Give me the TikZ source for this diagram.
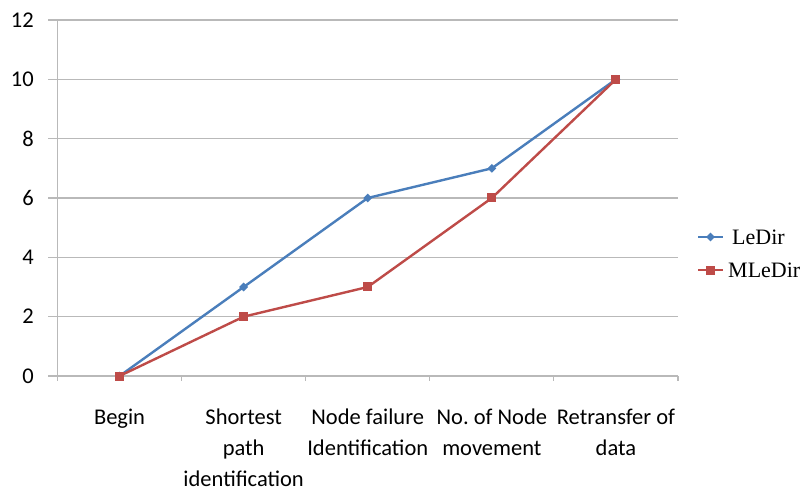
\documentclass[tikz,border=0pt]{standalone}
\usepackage{fontspec}
\setmainfont{Carlito}
\newfontfamily\legendfont{Liberation Serif}
\usetikzlibrary{calc,shapes.geometric}
\definecolor{ledirblue}{RGB}{74,126,187}
\definecolor{mledirred}{RGB}{190,75,72}
\definecolor{gridgray}{RGB}{185,185,185}
\newcommand{\xzero}{57.5}
\newcommand{\xstep}{124.1}
\newcommand{\yzero}{376}
\newcommand{\ystep}{29.67}
\tikzset{
    gridline/.style={draw=gridgray, line width=1.1pt},
    ticklabel/.style={anchor=east, inner sep=0pt, font=\fontsize{22.5}{26}\selectfont},
    catlabel/.style={anchor=north, inner sep=0pt, align=center, font=\fontsize{22.5}{31}\selectfont},
    seriesline/.style={line width=2.4pt, line join=round},
    bluemark/.style={diamond, fill=ledirblue, inner sep=0pt, minimum size=9pt},
    redmark/.style={rectangle, fill=mledirred, inner sep=0pt, minimum size=9pt},
    legendtext/.style={anchor=west, inner sep=0pt, font=\legendfont\fontsize{22}{24}\selectfont}
}
\newcommand{\drawSeries}[4]{%
    \foreach \v [count=\j] in {#4} {
        \pgfmathsetmacro{\px}{\xzero+(\j-0.5)*\xstep}
        \pgfmathsetmacro{\py}{\yzero-\v*\ystep}
        \coordinate (#1\j) at (\px,\py);
    }
    \draw[seriesline, #2] (#11) \foreach \j in {2,...,5} { -- (#1\j) };
    \foreach \j in {1,...,5} {
        \node[#3] (#1m\j) at (#1\j) {};
    }
}

\begin{document}
\begin{tikzpicture}[x=1pt, y=-1pt]
\useasboundingbox (0,0) rectangle (802,494);

\foreach \v in {0,2,...,12} {
    \pgfmathsetmacro{\py}{\yzero-\v*\ystep}
    \draw[gridline] (48,\py) -- (678,\py);
    \node[ticklabel] (tick\v) at (34,\py) {\v};
}
\draw[gridline] (\xzero,20) -- (\xzero,\yzero);
\foreach \i in {0,...,5} {
    \draw[gridline] ({\xzero+\i*\xstep},\yzero) -- ++(0,5);
}

\foreach \t [count=\j] in {Begin,{Shortest\\path\\identification},{Node failure\\Identification},{No.\ of Node\\movement},{Retransfer of\\data}} {
    \node[catlabel] (cat\j) at ({\xzero+(\j-0.5)*\xstep},409) {\t};
}

\drawSeries{ledir}{ledirblue}{bluemark}{0,3,6,7,10}
\drawSeries{mledir}{mledirred}{redmark}{0,2,3,6,10}

\coordinate (legAl) at (698,237);
\coordinate (legAr) at (723,237);
\draw[seriesline, ledirblue] (legAl) -- (legAr);
\node[bluemark] (legAm) at ($(legAl)!0.5!(legAr)$) {};
\node[legendtext] (legAtext) at (732,237) {LeDir};

\coordinate (legBl) at (698,270);
\coordinate (legBr) at (723,270);
\draw[seriesline, mledirred] (legBl) -- (legBr);
\node[redmark] (legBm) at ($(legBl)!0.5!(legBr)$) {};
\node[legendtext] (legBtext) at (728,270) {MLeDir};
\end{tikzpicture}
\end{document}
